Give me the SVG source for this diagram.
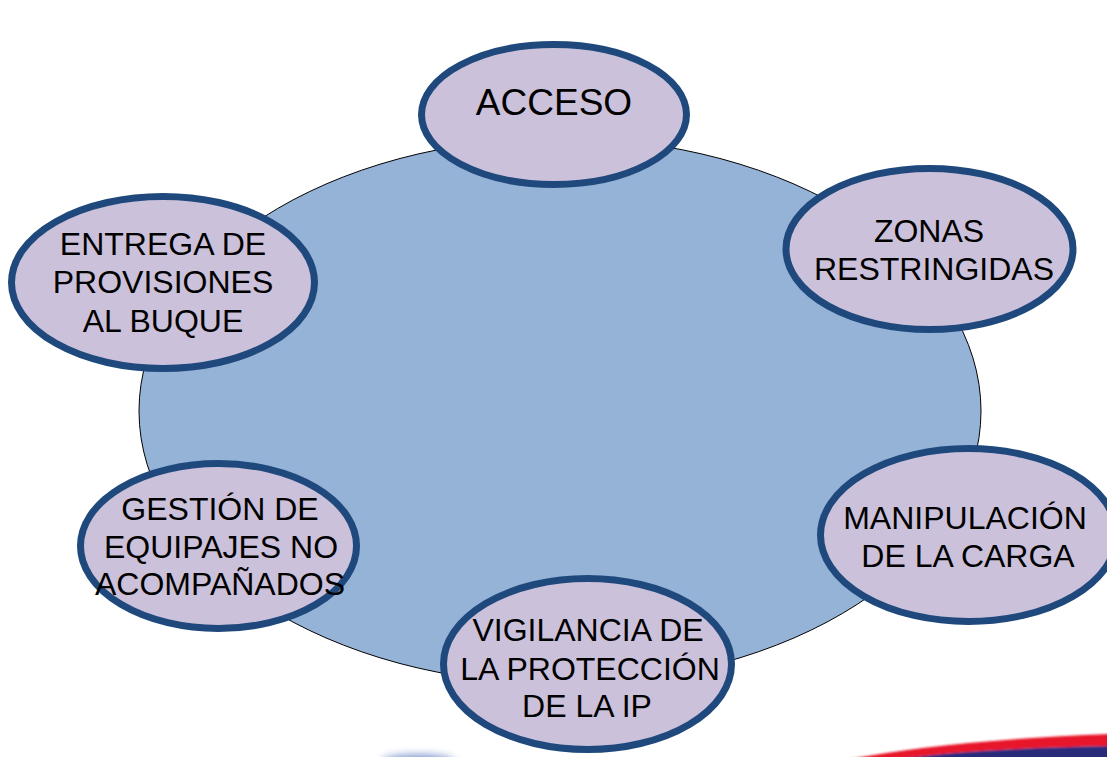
<svg xmlns="http://www.w3.org/2000/svg" width="1107" height="757" viewBox="0 0 1107 757">
<style>
.node{fill:#CCC1DA;stroke:#1F497D;stroke-width:7}
.lbl{font-family:"Liberation Sans",Arial,sans-serif;font-size:32px;fill:#000;text-anchor:middle}
</style>
<defs>
<filter id="blur" x="-50%" y="-100%" width="200%" height="300%"><feGaussianBlur stdDeviation="4"/></filter>
<filter id="blur1" x="-10%" y="-50%" width="120%" height="200%"><feGaussianBlur stdDeviation="1"/></filter>
</defs>
<rect width="1107" height="757" fill="#fff"/>
<g id="decor">
<ellipse cx="418" cy="762" rx="36" ry="7" fill="#3A5FB8" filter="url(#blur)" opacity="0.7"/>
<g filter="url(#blur1)">
<path d="M845 760 Q950 740 1110 734 L1110 746 Q980 748 890 760 Z" fill="#E8132A"/>
<path d="M890 760 Q980 748 1110 746 L1110 760 Z" fill="#2A2A7A"/>
</g>
</g>
<g id="hub">
<ellipse cx="560" cy="411" rx="421" ry="273" fill="#95B3D7" stroke="#000" stroke-width="1"/>
</g>
<g id="acceso">
<ellipse class="node" cx="554" cy="114.5" rx="132.5" ry="70"/>
<text class="lbl" x="554" y="115" style="font-size:37px">ACCESO</text>
</g>
<g id="zonas">
<ellipse class="node" cx="929.5" cy="249" rx="143.5" ry="80.5"/>
<text class="lbl" x="929" y="242">ZONAS</text>
<text class="lbl" x="934" y="280">RESTRINGIDAS</text>
</g>
<g id="entrega">
<ellipse class="node" cx="163" cy="282.5" rx="151.5" ry="86"/>
<text class="lbl" x="163" y="255">ENTREGA DE</text>
<text class="lbl" x="163" y="293">PROVISIONES</text>
<text class="lbl" x="163" y="332">AL BUQUE</text>
</g>
<g id="manipulacion">
<ellipse class="node" cx="968.5" cy="535" rx="148" ry="86.5"/>
<text class="lbl" x="965" y="529">MANIPULACIÓN</text>
<text class="lbl" x="968" y="567">DE LA CARGA</text>
</g>
<g id="gestion">
<ellipse class="node" cx="218.5" cy="546" rx="138" ry="82.5"/>
<text class="lbl" x="220" y="520">GESTIÓN DE</text>
<text class="lbl" x="221" y="558">EQUIPAJES NO</text>
<text class="lbl" x="220" y="595">ACOMPAÑADOS</text>
</g>
<g id="vigilancia">
<ellipse class="node" cx="587.5" cy="664" rx="144" ry="85.5"/>
<text class="lbl" x="588" y="641">VIGILANCIA DE</text>
<text class="lbl" x="590" y="680">LA PROTECCIÓN</text>
<text class="lbl" x="587" y="717">DE LA IP</text>
</g>
<g id="connectors"></g>
</svg>
